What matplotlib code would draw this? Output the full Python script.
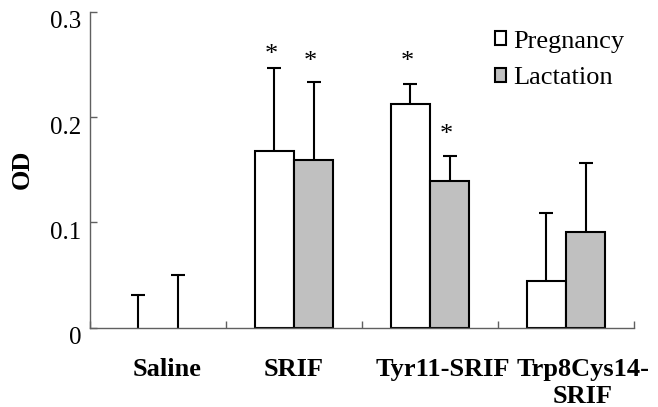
import numpy as np
import matplotlib
matplotlib.use("Agg")
import matplotlib.pyplot as plt
from matplotlib.patches import Patch
from matplotlib.transforms import ScaledTranslation

# data
categories = ["Saline", "SRIF", "Tyr11-SRIF", "Trp8Cys14-\nSRIF"]
pregnancy = [0.0, 0.168, 0.212, 0.044]
pregnancy_err = [0.031, 0.079, 0.019, 0.065]
lactation = [0.0, 0.159, 0.139, 0.091]
lactation_err = [0.050, 0.074, 0.024, 0.065]
# asterisk heights (data units), None = no asterisk
preg_star = [None, 0.264, 0.257, None]
lact_star = [None, 0.257, 0.188, None]
yticks = [0, 0.1, 0.2, 0.3]
ytick_labels = ["0", "0.1", "0.2", "0.3"]

plt.rcParams['font.family'] = ['Liberation Serif', 'DejaVu Serif']

fig = plt.figure(figsize=(6.58, 4.07), dpi=100)
ax = fig.add_axes([90 / 658, 1 - 327.7 / 407, 544 / 658, 316 / 407])

x = np.arange(len(categories)) + 0.5
w = 0.29
err_kw = dict(ecolor="black", elinewidth=1.5, capsize=4.7, capthick=1.5)

b1 = ax.bar(x - w / 2, pregnancy, w, color="white", edgecolor="black",
            linewidth=1.5, yerr=[np.zeros(4), pregnancy_err], error_kw=err_kw,
            label="Pregnancy", zorder=2)
b2 = ax.bar(x + w / 2, lactation, w, color="#c0c0c0", edgecolor="black",
            linewidth=1.5, yerr=[np.zeros(4), lactation_err], error_kw=err_kw,
            label="Lactation", zorder=2)

for bars, vals in ((b1, pregnancy), (b2, lactation)):
    # only the upper cap is drawn
    caps = bars.errorbar.lines[1]
    caps[0].set_visible(False)
    # zero-height bars show no outline
    for rect, v in zip(bars, vals):
        if v == 0:
            rect.set_linewidth(0)

star_shift = ScaledTranslation(-3 / 100, -5 / 100, fig.dpi_scale_trans)
for xs, stars in ((x - w / 2, preg_star), (x + w / 2, lact_star)):
    for xi, s in zip(xs, stars):
        if s is not None:
            ax.text(xi, s, "*", ha="center", va="center", fontsize=19,
                    transform=ax.transData + star_shift)

ax.set_xlim(0, len(categories))
ax.set_ylim(0, 0.3)
ax.set_yticks(yticks)
ax.set_yticklabels(ytick_labels, fontsize=18)
ax.set_xticks(x)
ax.set_xticklabels(categories, fontsize=19, fontweight="bold", linespacing=1.2)
ax.set_xticks(np.arange(len(categories) + 1), minor=True)
ax.tick_params(axis="x", which="major", length=0, pad=22)
ax.tick_params(axis="x", which="minor", direction="in", length=5,
               color="#606060", width=1)
ax.tick_params(axis="y", direction="in", length=5, color="#606060",
               width=1, pad=6)

# y labels sit a bit below their ticks in the original
for lab in ax.get_yticklabels():
    lab.set_transform(lab.get_transform() + ScaledTranslation(0, -8 / 100, fig.dpi_scale_trans))
# category labels are not quite centred in the original
for lab, dx in zip(ax.get_xticklabels(), [9, 0, 13, 17]):
    lab.set_transform(lab.get_transform() + ScaledTranslation(dx / 100, 0, fig.dpi_scale_trans))

for side in ("top", "right"):
    ax.spines[side].set_visible(False)
for side in ("left", "bottom"):
    ax.spines[side].set_color("#606060")
    ax.spines[side].set_linewidth(1)

ax.set_ylabel("OD", fontsize=19, fontweight="bold", labelpad=12)

handles = [Patch(facecolor="white", edgecolor="black", linewidth=1.5),
           Patch(facecolor="#c0c0c0", edgecolor="black", linewidth=1.5)]
ax.legend(handles, ["Pregnancy", "Lactation"], loc="upper left",
          bbox_to_anchor=(0.745, 0.94), frameon=False, fontsize=19,
          handlelength=0.42, handleheight=0.42, handletextpad=0.25,
          borderpad=0, borderaxespad=0, labelspacing=0.55)

fig.savefig("out.png", dpi=100)
